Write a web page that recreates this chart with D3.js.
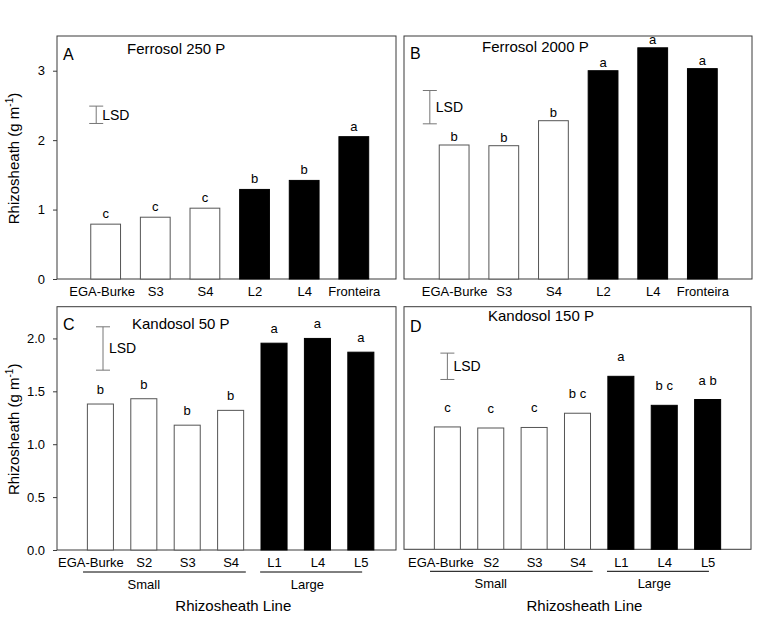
<!DOCTYPE html>
<html>
<head>
<meta charset="utf-8">
<script src="https://cdn.jsdelivr.net/npm/d3@7"></script>
<style>
  body { margin: 0; background: #fff; }
  svg { font-family: "Liberation Sans", Arial, sans-serif; }
</style>
</head>
<body>
<svg id="chart" width="771" height="617"></svg>
<script>
// ---- data ----
const ferroLines = ['EGA-Burke', 'S3', 'S4', 'L2', 'L4', 'Fronteira'];
const ferroSize = ['small', 'small', 'small', 'large', 'large', 'large'];
const kandoLines = ['EGA-Burke', 'S2', 'S3', 'S4', 'L1', 'L4', 'L5'];
const kandoSize = ['small', 'small', 'small', 'small', 'large', 'large', 'large'];

const ferro250 = [0.79, 0.89, 1.02, 1.29, 1.42, 2.05];
const ferro250Letters = ['c', 'c', 'c', 'b', 'b', 'a'];
const ferro2000 = [1.93, 1.92, 2.28, 3.00, 3.33, 3.03];
const ferro2000Letters = ['b', 'b', 'b', 'a', 'a', 'a'];
const kando50 = [1.38, 1.43, 1.18, 1.32, 1.955, 2.00, 1.87];
const kando50Letters = ['b', 'b', 'b', 'b', 'a', 'a', 'a'];
const kando150 = [1.16, 1.15, 1.155, 1.29, 1.64, 1.365, 1.42];
const kando150Letters = ['c', 'c', 'c', 'b c', 'a', 'b c', 'a b'];

const ferroTicks = [0, 1, 2, 3];
const kandoTicks = [0, 0.5, 1.0, 1.5, 2.0];

// LSD bars: [lower end, lsd]
const lsdA = [2.24, 0.25];
const lsdB = [2.235, 0.48];
const lsdC = [1.70, 0.41];
const lsdD = [1.61, 0.25];

const groupNames = ['Small', 'Large'];

// ---- layout ----
const panels = [
  { id: 'A', title: 'Ferrosol 250 P', cats: ferroLines, size: ferroSize, vals: ferro250, letters: ferro250Letters,
    lsd: lsdA, lsdX: -0.19, x0: 57, x1: 396, xd: [-0.98, 5.85], y0: 279, y1: 36, ymax: 3.5,
    ticks: ferroTicks, fmt: d3.format('d'), yAxis: true, letterGap: 6, titleX: 127, titleY: 53.5, idY: 59.5, firstShift: -4 },
  { id: 'B', title: 'Ferrosol 2000 P', cats: ferroLines, size: ferroSize, vals: ferro2000, letters: ferro2000Letters,
    lsd: lsdB, lsdX: -0.49, x0: 404, x1: 752, xd: [-1.01, 6.0], y0: 279, y1: 36, ymax: 3.5,
    ticks: ferroTicks, fmt: d3.format('d'), yAxis: false, letterGap: 4, titleX: 482, titleY: 52, idY: 58.5, firstShift: 0 },
  { id: 'C', title: 'Kandosol 50 P', cats: kandoLines, size: kandoSize, vals: kando50, letters: kando50Letters,
    lsd: lsdC, lsdX: 0.06, x0: 57, x1: 396, xd: [-1.0, 6.81], y0: 550, y1: 306.7, ymax: 2.3,
    ticks: kandoTicks, fmt: d3.format('.1f'), yAxis: true, letterGap: 10, titleX: 132, titleY: 329, idY: 329.5, firstShift: -10 },
  { id: 'D', title: 'Kandosol 150 P', cats: kandoLines, size: kandoSize, vals: kando150, letters: kando150Letters,
    lsd: lsdD, lsdX: 0.0, x0: 404, x1: 751, xd: [-1.0, 7.0], y0: 549.3, y1: 306.7, ymax: 2.3,
    ticks: kandoTicks, fmt: d3.format('.1f'), yAxis: false, letterGap: 15, titleX: 488, titleY: 320.5, idY: 332, firstShift: -7 }
];

const svg = d3.select('#chart');
const frameColor = '#3a3a3a';

panels.forEach(p => {
  const x = d3.scaleLinear().domain(p.xd).range([p.x0, p.x1]);
  const y = d3.scaleLinear().domain([0, p.ymax]).range([p.y0, p.y1]);
  const step = x(1) - x(0);
  const bw = step * 0.6;
  const g = svg.append('g');
  const idx = d3.range(p.cats.length);

  // frame
  g.append('rect')
    .attr('x', p.x0).attr('y', p.y1)
    .attr('width', p.x1 - p.x0).attr('height', p.y0 - p.y1)
    .attr('fill', 'none').attr('stroke', frameColor).attr('stroke-width', 1);

  // bars
  g.selectAll('rect.bar')
    .data(idx)
    .enter()
    .append('rect')
    .attr('class', 'bar')
    .attr('x', i => x(i) - bw / 2)
    .attr('y', i => y(p.vals[i]))
    .attr('width', bw)
    .attr('height', i => y(0) - y(p.vals[i]))
    .attr('fill', i => p.size[i] === 'large' ? '#000' : '#fff')
    .attr('stroke', i => p.size[i] === 'large' ? '#000' : '#555')
    .attr('stroke-width', 1);

  // significance letters
  g.selectAll('text.letter')
    .data(idx)
    .enter()
    .append('text')
    .attr('x', i => x(i))
    .attr('y', i => y(p.vals[i]) - p.letterGap)
    .attr('text-anchor', 'middle')
    .attr('font-size', 13)
    .text(i => p.letters[i]);

  // x axis labels
  const xAxis = d3.axisBottom(x)
    .tickValues(idx)
    .tickFormat(i => p.cats[i])
    .tickSize(0)
    .tickPadding(8);
  const xg = g.append('g')
    .attr('transform', 'translate(0,' + p.y0 + ')')
    .call(xAxis);
  xg.select('.domain').remove();
  xg.selectAll('text').attr('font-size', 13).attr('fill', '#000')
    .attr('font-family', '"Liberation Sans", Arial, sans-serif')
    .attr('dx', i => i === 0 ? p.firstShift : 0);

  // y axis
  if (p.yAxis) {
    const yg = g.append('g')
      .attr('transform', 'translate(' + p.x0 + ',0)')
      .call(d3.axisLeft(y).tickValues(p.ticks).tickFormat(p.fmt).tickSize(4).tickPadding(8));
    yg.select('.domain').remove();
    yg.selectAll('line').attr('stroke', frameColor);
    yg.selectAll('text').attr('font-size', 13).attr('fill', '#000')
      .attr('font-family', '"Liberation Sans", Arial, sans-serif');

    const yl = g.append('text')
      .attr('transform', 'translate(19,' + ((p.y0 + p.y1) / 2 + 1) + ') rotate(-90)')
      .attr('text-anchor', 'middle')
      .attr('font-size', 15);
    yl.append('tspan').text('Rhizosheath (g m');
    yl.append('tspan').attr('font-size', 10).attr('dy', -6).text('-1');
    yl.append('tspan').attr('dy', 6).text(')');
  }

  // LSD bar
  const lx = x(p.lsdX);
  const lyLo = y(p.lsd[0]), lyHi = y(p.lsd[0] + p.lsd[1]);
  const lsdG = g.append('g').attr('stroke', '#777').attr('stroke-width', 1);
  lsdG.append('line').attr('x1', lx).attr('x2', lx).attr('y1', lyLo).attr('y2', lyHi);
  lsdG.append('line').attr('x1', lx - 7).attr('x2', lx + 7).attr('y1', lyLo).attr('y2', lyLo);
  lsdG.append('line').attr('x1', lx - 7).attr('x2', lx + 7).attr('y1', lyHi).attr('y2', lyHi);
  g.append('text')
    .attr('x', lx + 6)
    .attr('y', (lyLo + lyHi) / 2 + 5)
    .attr('font-size', 14)
    .text('LSD');

  // panel id and title
  g.append('text').attr('x', p.x0 + 6).attr('y', p.idY).attr('font-size', 16).text(p.id);
  g.append('text').attr('x', p.titleX).attr('y', p.titleY).attr('font-size', 15).text(p.title);

  // group underlines for Kandosol panels
  if (p.cats.length === 7) {
    const spans = [[-0.4, 3.35], [3.68, 6.03]];
    spans.forEach((s, k) => {
      g.append('line')
        .attr('x1', x(s[0])).attr('x2', x(s[1]))
        .attr('y1', p.y0 + 22).attr('y2', p.y0 + 22)
        .attr('stroke', '#000').attr('stroke-width', 1);
      g.append('text')
        .attr('x', k === 0 ? x(1) : x(5) - 10)
        .attr('y', p.y0 + 39)
        .attr('text-anchor', 'middle')
        .attr('font-size', 13)
        .text(groupNames[k]);
    });
    g.append('text')
      .attr('x', p.x0 + (p.x1 - p.x0) * 0.52)
      .attr('y', 611)
      .attr('text-anchor', 'middle')
      .attr('font-size', 15)
      .text('Rhizosheath Line');
  }
});
</script>
</body>
</html>
